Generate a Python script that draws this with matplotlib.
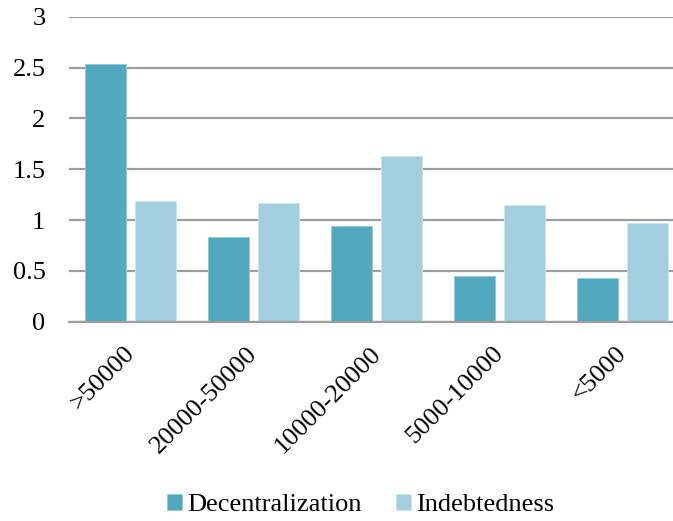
import matplotlib
matplotlib.use("Agg")
import matplotlib.pyplot as plt
import matplotlib.transforms as mtransforms
import numpy as np

plt.rcParams['font.family'] = ['Liberation Serif', 'DejaVu Serif']

categories = [">50000", "20000-50000", "10000-20000", "5000-10000", "<5000"]
decentralization = [2.53, 0.83, 0.94, 0.45, 0.43]
indebtedness = [1.19, 1.17, 1.63, 1.15, 0.97]
y_ticks = [0, 0.5, 1, 1.5, 2, 2.5, 3]
y_tick_labels = ["0", "0.5", "1", "1.5", "2", "2.5", "3"]

W, H = 673, 521
fig = plt.figure(figsize=(W / 100, H / 100), dpi=100)
ax = fig.add_axes([69 / W, (H - 321.7) / H, 615 / W, (321.7 - 16.7) / H])

x = np.arange(len(categories))
bar_w = 0.333
offset = 0.207
ax.bar(x - offset, decentralization, width=bar_w, color="#51A8BF",
       edgecolor="#8FCBDB", linewidth=0.6, label="Decentralization", zorder=3)
ax.bar(x + offset, indebtedness, width=bar_w, color="#A2CEDD",
       edgecolor="#CBE6EE", linewidth=0.6, label="Indebtedness", zorder=3)

ax.set_xlim(-0.5, len(categories) - 0.5)
ax.set_ylim(0, 3)
ax.set_yticks(y_ticks)
ax.set_yticklabels(y_tick_labels, fontsize=19)
ax.yaxis.grid(True, color="#9E9E9E", linewidth=1.6, zorder=0)
ax.tick_params(axis="y", length=0, pad=17)

ax.set_xticks(x)
ax.set_xticklabels(categories, fontsize=19, rotation=45, ha="right",
                   va="top", rotation_mode="anchor")
ax.tick_params(axis="x", length=0, pad=15)
shift = mtransforms.ScaledTranslation(-7 / 100, 0, fig.dpi_scale_trans)
for lbl in ax.get_xticklabels():
    lbl.set_transform(lbl.get_transform() + shift)

for side in ["left", "right", "top"]:
    ax.spines[side].set_visible(False)
ax.spines["bottom"].set_color("#9E9E9E")
ax.spines["bottom"].set_linewidth(1.6)
ax.spines["bottom"].set_zorder(4)

fig.legend(loc="center", bbox_to_anchor=(0.536, 0.031), ncol=2, frameon=False,
           fontsize=19, handlelength=0.55, handleheight=0.55, handletextpad=0.2,
           columnspacing=1.3)

fig.savefig("out.png", dpi=100)
